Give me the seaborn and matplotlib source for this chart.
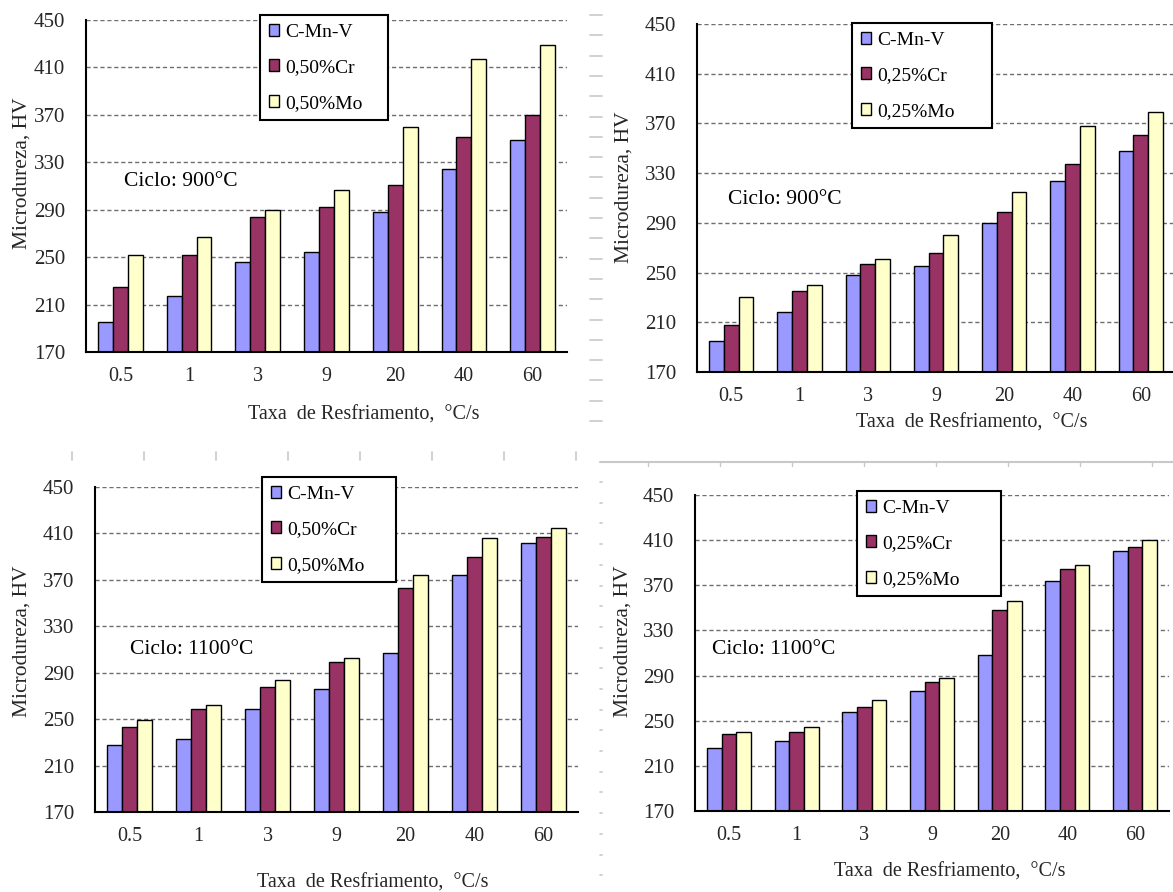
import numpy as np
import pandas as pd
import matplotlib.pyplot as plt
from matplotlib.lines import Line2D
import seaborn as sns

# -----------------------------
# DATA  (Microdureza HV vs taxa de resfriamento)
# -----------------------------
rates = ["0.5", "1", "3", "9", "20", "40", "60"]

# Ciclo 900 C, adicoes 0,50%
hv900_cmnv_a = [195, 217, 246, 254, 288, 324, 349]
hv900_cr050 = [225, 252, 284, 292, 311, 351, 370]
hv900_mo050 = [252, 267, 290, 307, 360, 417, 429]

# Ciclo 900 C, adicoes 0,25%
hv900_cmnv_b = [195, 218, 248, 255, 290, 324, 348]
hv900_cr025 = [208, 235, 257, 266, 299, 337, 361]
hv900_mo025 = [230, 240, 261, 280, 315, 368, 379]

# Ciclo 1100 C, adicoes 0,50%
hv1100_cmnv_a = [228, 233, 259, 276, 307, 374, 402]
hv1100_cr050 = [243, 259, 278, 299, 363, 390, 407]
hv1100_mo050 = [249, 262, 284, 303, 374, 406, 415]

# Ciclo 1100 C, adicoes 0,25%
hv1100_cmnv_b = [226, 232, 258, 276, 308, 374, 400]
hv1100_cr025 = [238, 240, 262, 284, 348, 384, 404]
hv1100_mo025 = [240, 244, 268, 288, 356, 388, 410]

labels_050 = ["C-Mn-V", "0,50%Cr", "0,50%Mo"]
labels_025 = ["C-Mn-V", "0,25%Cr", "0,25%Mo"]
ciclos = ["Ciclo: 900°C", "Ciclo: 900°C", "Ciclo: 1100°C", "Ciclo: 1100°C"]
yticks = [170, 210, 250, 290, 330, 370, 410, 450]

COLORS = ["#9999FF", "#993366", "#FFFFCC"]

# -----------------------------
# LAYOUT (pixel boxes of the original figure)
# -----------------------------
W, H = 1173, 892
panels = [
    # axes box (l, t, r, b), legend box (l, t, width), ciclo text, xlabel center, ylabel center
    dict(series=[hv900_cmnv_a, hv900_cr050, hv900_mo050], labels=labels_050,
         box=(86, 20, 567, 352), leg=(260, 15, 128), txt=(124, 182), xl=(364, 415), yl=(22, 173)),
    dict(series=[hv900_cmnv_b, hv900_cr025, hv900_mo025], labels=labels_025,
         box=(697, 24, 1175, 372), leg=(852, 23, 140), txt=(728, 200), xl=(972, 423), yl=(624, 187)),
    dict(series=[hv1100_cmnv_a, hv1100_cr050, hv1100_mo050], labels=labels_050,
         box=(95, 487, 578, 812), leg=(262, 477, 134), txt=(130, 650), xl=(373, 883), yl=(22, 641)),
    dict(series=[hv1100_cmnv_b, hv1100_cr025, hv1100_mo025], labels=labels_025,
         box=(695, 495, 1169, 811), leg=(857, 491, 144), txt=(712, 650), xl=(950, 872), yl=(623, 641)),
]

sns.set_theme(style="white")
plt.rcParams["font.family"] = ["Liberation Serif", "DejaVu Serif"]
plt.rcParams["text.color"] = "black"

fig = plt.figure(figsize=(W / 100, H / 100), dpi=100)


def fx(x):
    return x / W


def fy(y):
    return 1 - y / H


for i, p in enumerate(panels):
    l, t, r, b = p["box"]
    ax = fig.add_axes([fx(l), fy(b), (r - l) / W, (b - t) / H])

    df = pd.DataFrame({
        "taxa": rates * 3,
        "hv": p["series"][0] + p["series"][1] + p["series"][2],
        "liga": sum([[lab] * len(rates) for lab in p["labels"]], []),
    })
    sns.barplot(data=df, x="taxa", y="hv", hue="liga", order=rates,
                hue_order=p["labels"], palette=COLORS, width=0.65,
                edgecolor="black", linewidth=1.0, saturation=1, ax=ax)

    ax.set_ylim(170, 450)
    ax.set_xlim(-0.5, 6.5)
    ax.set_yticks(yticks)
    ax.set_xticks(np.arange(-0.5, 7, 1), minor=True)
    ax.tick_params(axis="x", which="major", length=0, pad=11, labelsize=14.5)
    ax.tick_params(axis="x", which="minor", length=6, width=1.3, color="black", direction="out")
    ax.tick_params(axis="y", length=6, width=1.3, color="black", direction="out", pad=9, labelsize=15)
    ax.set_axisbelow(True)
    ax.yaxis.grid(True, linestyle=(0, (3, 2)), color="#6e6e6e", linewidth=1.0)
    ax.xaxis.grid(False)
    for s in ["top", "right"]:
        ax.spines[s].set_visible(False)
    for s in ["left", "bottom"]:
        ax.spines[s].set_color("black")
        ax.spines[s].set_linewidth(1.5)

    # axis labels placed like the original
    ax.set_xlabel("Taxa  de Resfriamento,  °C/s", fontsize=14.5)
    ax.set_ylabel("Microdureza, HV", fontsize=15.5)
    ax.xaxis.set_label_coords((p["xl"][0] - l) / (r - l), (b - p["xl"][1]) / (b - t))
    ax.xaxis.label.set_va("center")
    ax.yaxis.set_label_coords((p["yl"][0] - l) / (r - l), (b - p["yl"][1]) / (b - t))
    ax.yaxis.label.set_va("center")

    # legend box
    handles, labs = ax.get_legend_handles_labels()
    ax.get_legend().remove()
    lx, ly, lw = p["leg"]
    leg = fig.legend(handles, labs, loc="upper left", mode="expand",
                     bbox_to_anchor=(fx(lx), fy(ly) - 0.1, lw / W, 0.1),
                     fontsize=14, frameon=True, fancybox=False, framealpha=1,
                     edgecolor="black", borderpad=0.45, labelspacing=0.95,
                     handlelength=0.55, handleheight=0.55, handletextpad=0.3,
                     borderaxespad=0)
    leg.get_frame().set_linewidth(1.5)

    fig.text(fx(p["txt"][0]), fy(p["txt"][1]), ciclos[i], fontsize=15.5,
             ha="left", va="center")

# -----------------------------
# faint page artefacts around the panels
# -----------------------------
GRAY = "#c8c8c8"
for k in range(8):
    x = 71.5 + 72 * k
    fig.add_artist(Line2D([fx(x), fx(x)], [fy(452), fy(460)], color=GRAY, lw=1.2))
fig.add_artist(Line2D([fx(600), fx(1173)], [fy(462), fy(462)], color=GRAY, lw=1.5))
for k in range(8):
    x = 647.6 + 72 * k
    fig.add_artist(Line2D([fx(x), fx(x)], [fy(462), fy(466)], color=GRAY, lw=1.0))
for y in np.arange(15, 425, 20.3):
    fig.add_artist(Line2D([fx(590), fx(602)], [fy(y), fy(y)], color=GRAY, lw=1.2))
for y in np.arange(482, 890, 20.7):
    fig.add_artist(Line2D([fx(600), fx(602)], [fy(y), fy(y)], color=GRAY, lw=1.2))

fig.savefig("out.png", dpi=100)
